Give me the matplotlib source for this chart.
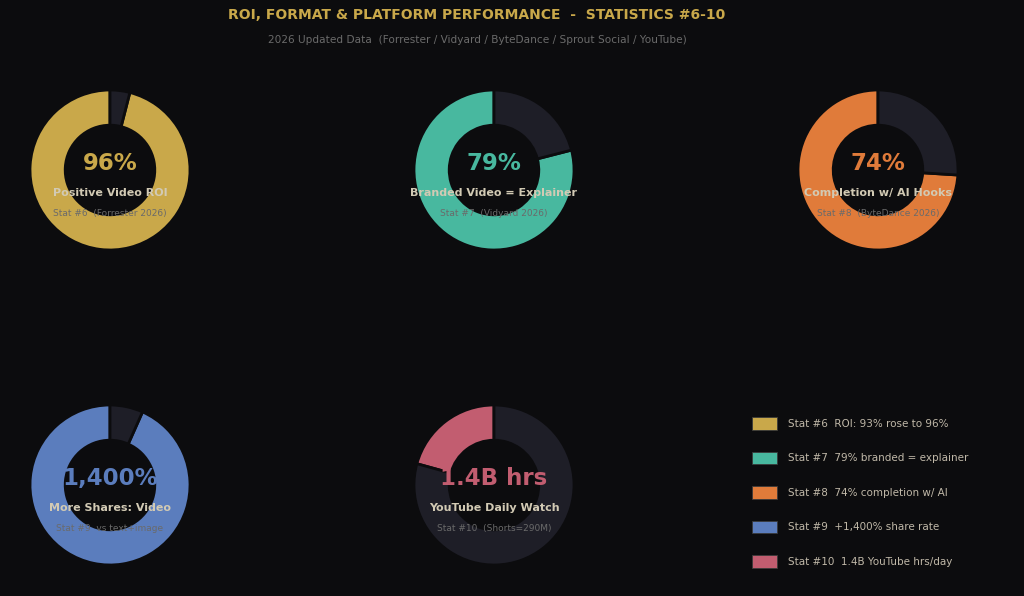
import matplotlib
matplotlib.use("Agg")
import matplotlib.pyplot as plt
from matplotlib.patches import Patch

# ---- data ----
stat_numbers = ["#6", "#7", "#8", "#9", "#10"]
value_labels = ["96%", "79%", "74%", "1,400%", "1.4B hrs"]
filled = [96, 79, 74, 1400, 290]
totals = [100, 100, 100, 1500, 1400]
titles = ["Positive Video ROI", "Branded Video = Explainer", "Completion w/ AI Hooks",
          "More Shares: Video", "YouTube Daily Watch"]
subtitles = ["Stat #6  (Forrester 2026)", "Stat #7  (Vidyard 2026)", "Stat #8  (ByteDance 2026)",
             "Stat #9  vs text+image", "Stat #10  (Shorts=290M)"]
legend_labels = ["Stat #6  ROI: 93% rose to 96%", "Stat #7  79% branded = explainer",
                 "Stat #8  74% completion w/ AI", "Stat #9  +1,400% share rate",
                 "Stat #10  1.4B YouTube hrs/day"]
colors = ["#c9a84a", "#48b89f", "#e07b3a", "#5b7dbd", "#c25d70"]

BG = "#0c0c0e"
REST = "#1e1e27"

W, H = 1024, 596
fig = plt.figure(figsize=(W / 100, H / 100), dpi=100, facecolor=BG)

centers = [(110, 170), (494, 170), (878, 170), (110, 485), (494, 485)]
R = 80
half = 100
for i, (cx, cy) in enumerate(centers):
    ax = fig.add_axes([(cx - half) / W, (H - cy - half) / H, 2 * half / W, 2 * half / H])
    ax.set_facecolor(BG)
    ax.pie([filled[i], totals[i] - filled[i]], colors=[colors[i], REST], startangle=90,
           counterclock=True, radius=1.0,
           wedgeprops=dict(width=0.44, edgecolor=BG, linewidth=2))
    lim = half / R
    ax.set_xlim(-lim, lim)
    ax.set_ylim(-lim, lim)
    ax.set_aspect("equal")
    ax.axis("off")
    ax.text(0, 0.08, value_labels[i], ha="center", va="center", fontsize=16.5,
            fontweight="bold", color=colors[i])
    ax.text(0, -0.29, titles[i], ha="center", va="center", fontsize=8,
            fontweight="bold", color="#d2cab4")
    ax.text(0, -0.54, subtitles[i], ha="center", va="center", fontsize=6.5,
            color="#6a6a6a")

fig.text(477 / W, 1 - 15 / H, "ROI, FORMAT & PLATFORM PERFORMANCE  -  STATISTICS #6-10",
         ha="center", va="center", fontsize=10, fontweight="bold", color="#c9a84a")
fig.text(477 / W, 1 - 40 / H,
         "2026 Updated Data  (Forrester / Vidyard / ByteDance / Sprout Social / YouTube)",
         ha="center", va="center", fontsize=7.6, color="#6a6a6a")

handles = [Patch(facecolor=c, edgecolor="#3a3a3a", linewidth=0.6) for c in colors]
leg = fig.legend(handles, legend_labels, loc="upper left",
                 bbox_to_anchor=(743 / W, 1 - 408 / H), frameon=False,
                 fontsize=7.5, labelcolor="#c0b8a8", labelspacing=2.12,
                 handlelength=2.4, handleheight=1.45, handletextpad=1.05)

fig.savefig("out.png", dpi=100, facecolor=BG)
